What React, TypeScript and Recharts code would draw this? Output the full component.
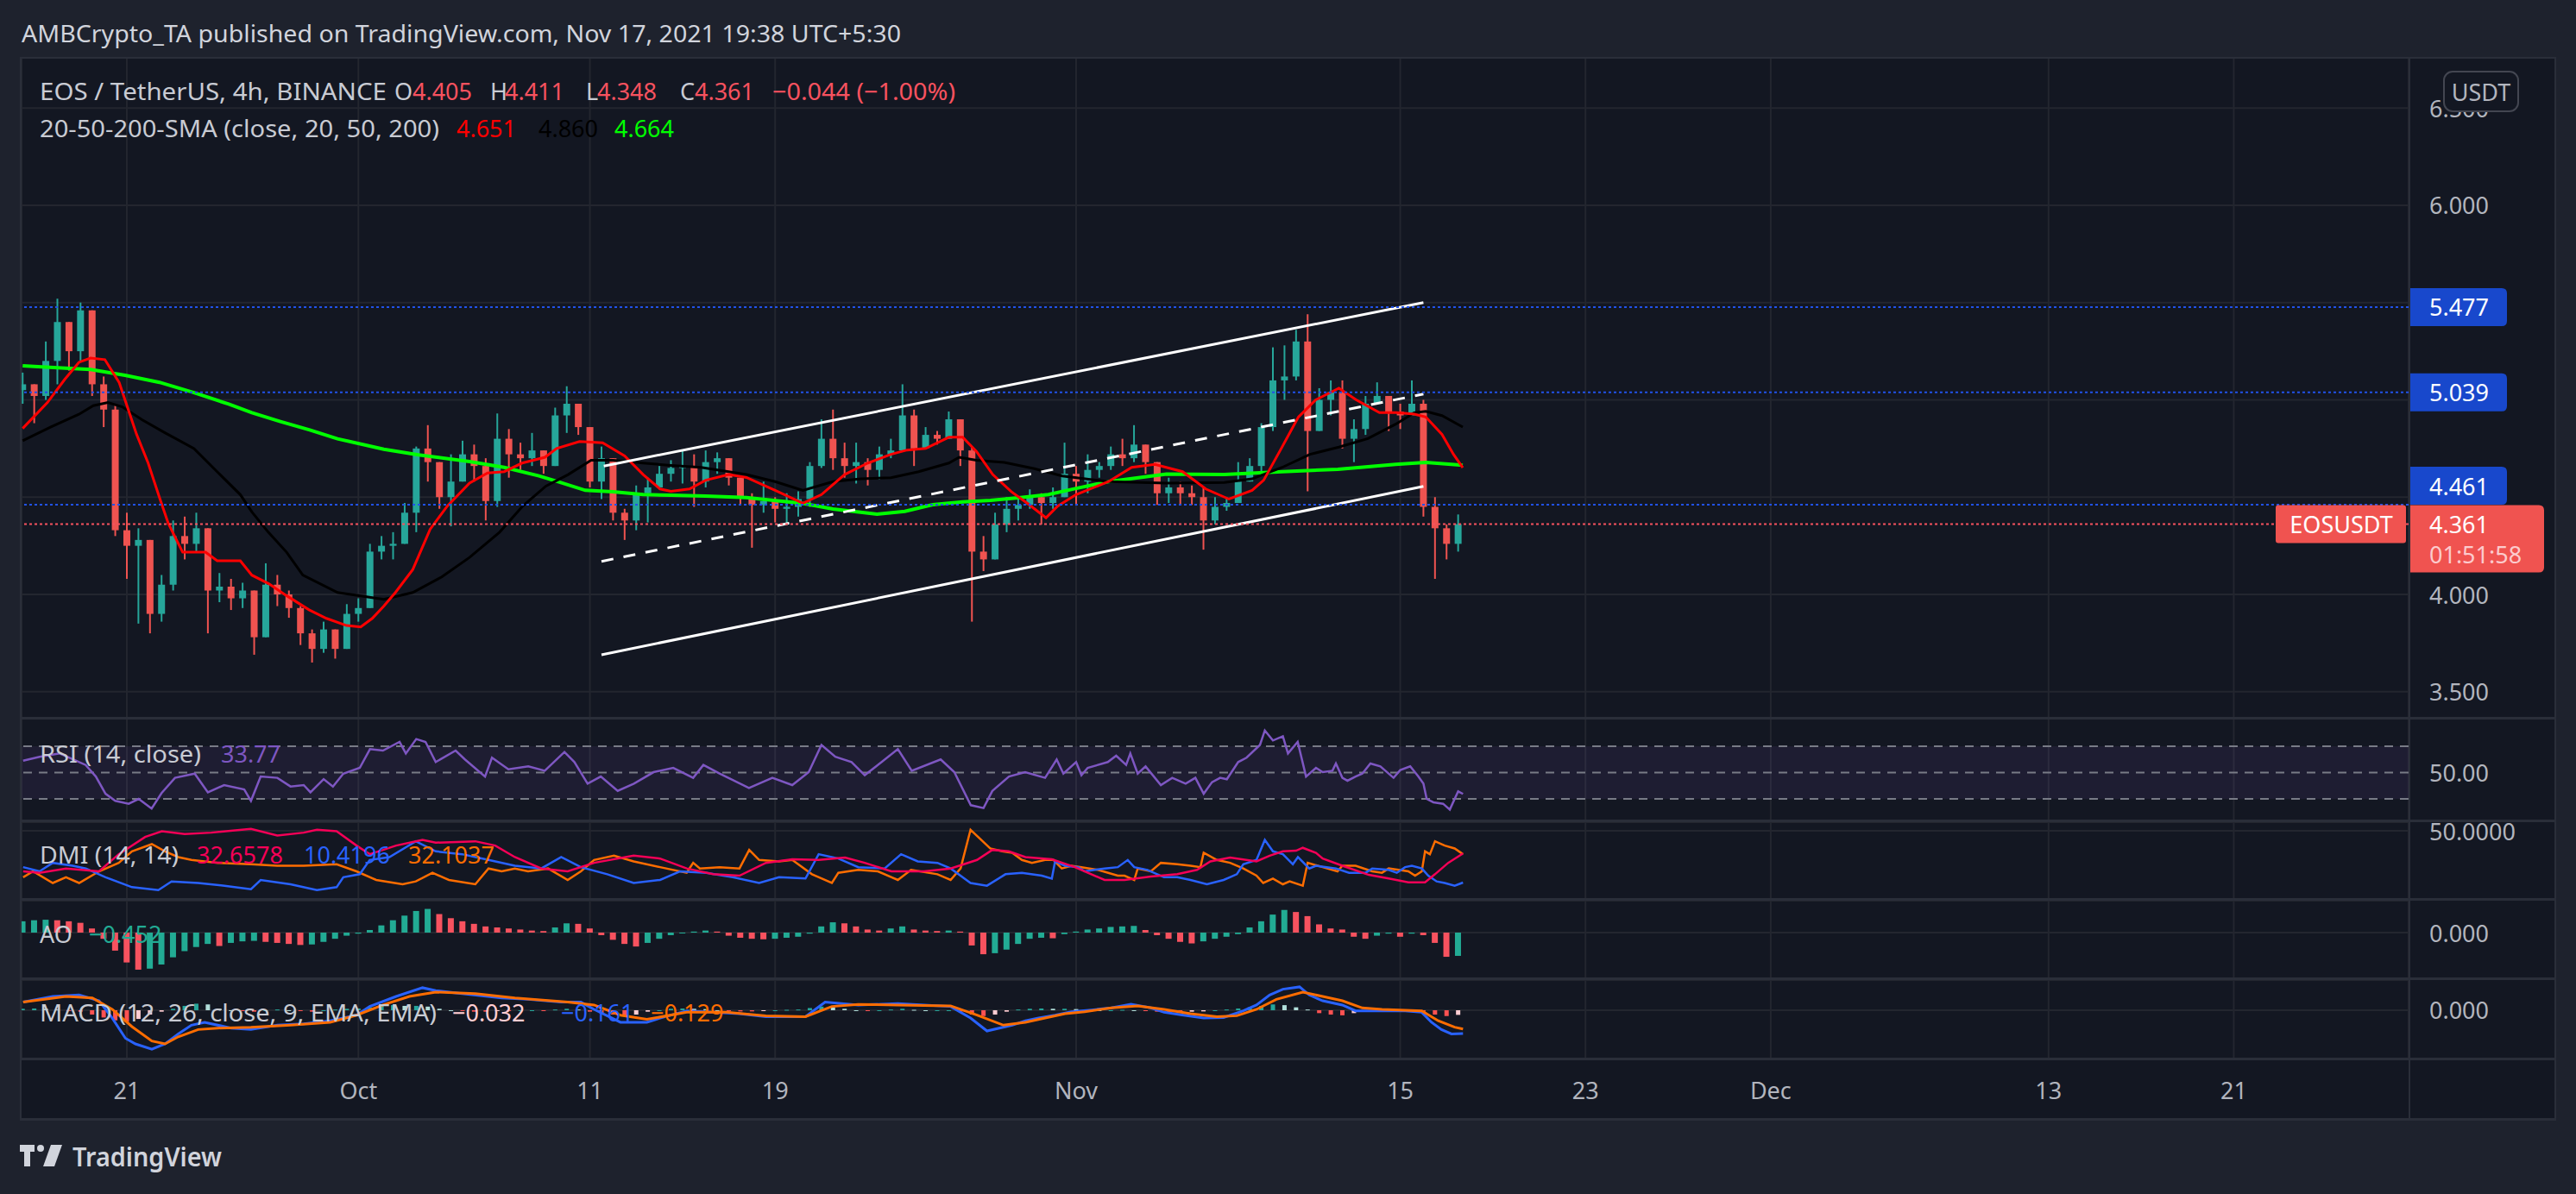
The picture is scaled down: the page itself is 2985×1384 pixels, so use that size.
import React from 'react';
import { ComposedChart, Bar, Line, XAxis, YAxis, CartesianGrid, ReferenceLine, ReferenceArea } from 'recharts';

const X_MIN = -4.547; // days from Sep 21
const X_MAX = 98.55;
const dayTicks = [0, 10, 20, 28, 41, 55, 63, 71, 83, 91];
const dayLabels = ['21', 'Oct', '11', '19', 'Nov', '15', '23', 'Dec', '13', '21'];

const candleStart = -4.5;
const candleStep = 0.5;
const firstOpen = 5.05;

const closes = [
  5.08, 5.02, 5.2, 5.4, 5.25, 5.46, 5.08, 4.95, 4.33, 4.25,
  4.28, 3.9, 4.05, 4.3, 4.26, 4.34, 4.02, 4.04, 3.98, 4.02,
  3.78, 4.05, 4.0, 3.93, 3.8, 3.72, 3.82, 3.72, 3.9, 3.93,
  4.22, 4.25, 4.26, 4.42, 4.75, 4.68, 4.5, 4.58, 4.72, 4.66,
  4.48, 4.8, 4.72, 4.7, 4.74, 4.66, 4.92, 4.98, 4.86, 4.58,
  4.7, 4.42, 4.38, 4.52, 4.55, 4.62, 4.65, 4.66, 4.58, 4.68,
  4.7, 4.6, 4.5, 4.46, 4.48, 4.44, 4.45, 4.49, 4.66, 4.8,
  4.7, 4.66, 4.68, 4.64, 4.72, 4.74, 4.92, 4.75, 4.82, 4.8,
  4.9, 4.74, 4.22, 4.18, 4.36, 4.44, 4.46, 4.5, 4.47, 4.5,
  4.62, 4.58, 4.64, 4.66, 4.72, 4.7, 4.77, 4.68, 4.52, 4.55,
  4.52, 4.5, 4.38, 4.45, 4.47, 4.58, 4.66, 4.86, 5.1, 5.12,
  5.3, 4.84, 5.0, 5.04, 4.8, 4.85, 4.98, 5.02, 4.94, 4.92,
  4.98, 4.45, 4.34, 4.26, 4.361,
];
const highs = [
  5.14, 5.08, 5.3, 5.52, 5.32, 5.5, 5.4, 5.12, 4.98, 4.42,
  4.34, 4.28, 4.1, 4.38, 4.4, 4.42, 4.34, 4.11, 4.08, 4.06,
  3.98, 4.16, 4.1, 4.02, 3.94, 3.82, 3.86, 3.8, 3.95, 3.98,
  4.26, 4.3, 4.32, 4.47, 4.76, 4.87, 4.66, 4.72, 4.79, 4.77,
  4.7, 4.93, 4.85, 4.78, 4.83, 4.74, 4.96, 5.07, 4.96, 4.84,
  4.76, 4.62, 4.44, 4.56, 4.6, 4.66, 4.69, 4.74, 4.72, 4.74,
  4.73, 4.66, 4.6, 4.52, 4.58, 4.5, 4.52, 4.53, 4.68, 4.9,
  4.95, 4.78, 4.78, 4.7, 4.76, 4.8, 5.08, 4.95, 4.86, 4.84,
  4.94, 4.86, 4.76, 4.3, 4.42, 4.5, 4.5, 4.54, 4.52, 4.55,
  4.78, 4.66, 4.72, 4.68, 4.76, 4.8, 4.87, 4.75, 4.66, 4.6,
  4.58, 4.56, 4.55, 4.5, 4.5, 4.68, 4.7, 4.88, 5.27, 5.28,
  5.36, 5.44, 5.06, 5.1, 5.1, 4.9, 5.02, 5.09, 5.02, 4.98,
  5.1, 5.0, 4.5, 4.36, 4.411,
];
const lows = [
  4.98, 4.88, 5.0, 5.08, 5.15, 5.2, 5.02, 4.86, 4.3, 4.08,
  3.85, 3.8, 3.86, 4.02, 4.18, 4.22, 3.8, 3.96, 3.92, 3.93,
  3.69, 3.85, 3.94, 3.88, 3.74, 3.65, 3.7, 3.67, 3.72, 3.86,
  3.96, 4.18, 4.18, 4.3, 4.32, 4.58, 4.44, 4.35, 4.58, 4.58,
  4.38, 4.45, 4.6, 4.64, 4.66, 4.62, 4.7, 4.83, 4.82, 4.55,
  4.49, 4.38, 4.28, 4.33, 4.37, 4.54, 4.58, 4.57, 4.45, 4.55,
  4.62, 4.56, 4.46, 4.24, 4.42, 4.37, 4.36, 4.4, 4.45, 4.65,
  4.64, 4.6, 4.57, 4.56, 4.59, 4.7, 4.8, 4.66, 4.76, 4.77,
  4.83, 4.66, 3.86, 4.12, 4.2, 4.32, 4.38, 4.44, 4.36, 4.44,
  4.5, 4.46, 4.52, 4.6, 4.64, 4.66, 4.68, 4.62, 4.46, 4.47,
  4.46, 4.46, 4.23, 4.36, 4.43, 4.5, 4.6, 4.62, 4.84, 5.0,
  5.1, 4.53, 4.84, 4.92, 4.75, 4.68, 4.82, 4.98, 4.84, 4.85,
  4.92, 4.4, 4.08, 4.18, 4.22,
];

const sma20 = [[-4.5,4.853],[-3.43,4.986],[-2.69,5.104],[-2.07,5.193],[-1.57,5.215],[-0.95,5.207],[-0.33,5.089],[0.42,4.823],[0.92,4.675],[1.41,4.498],[1.79,4.365],[2.41,4.217],[3.4,4.217],[3.9,4.173],[4.9,4.173],[5.4,4.099],[6.13,4.055],[6.88,3.995],[7.87,3.921],[8.62,3.877],[9.49,3.84],[10.1,3.833],[10.6,3.877],[11.1,3.94],[11.6,4.01],[12.35,4.128],[13.1,4.335],[13.84,4.454],[14.8,4.572],[15.58,4.624],[16.3,4.631],[17.07,4.675],[18.06,4.705],[18.56,4.75],[19.55,4.786],[20.55,4.779],[21.5,4.712],[22.3,4.616],[23.03,4.542],[23.5,4.53],[24.3,4.542],[25.0,4.587],[26.0,4.616],[26.76,4.601],[28.0,4.535],[29.2,4.468],[30.0,4.513],[31.0,4.616],[32.0,4.675],[33.0,4.72],[33.7,4.742],[34.5,4.75],[35.5,4.808],[36.1,4.808],[36.7,4.734],[37.4,4.616],[38.2,4.528],[38.9,4.468],[39.7,4.394],[40.2,4.454],[41.0,4.513],[42.4,4.58],[43.4,4.653],[44.4,4.668],[45.6,4.631],[46.6,4.542],[47.6,4.49],[48.6,4.535],[49.1,4.587],[49.86,4.75],[50.6,4.912],[51.35,5.0],[52.35,5.06],[53.1,5.0],[54.1,4.934],[54.85,4.934],[55.6,4.927],[56.1,4.912],[56.8,4.823],[57.3,4.72],[57.7,4.651]];
const sma50 = [[-4.5,4.79],[-3.3,4.86],[-2.07,4.926],[-1.45,4.97],[-0.82,4.986],[-0.2,4.964],[0.67,4.897],[1.66,4.83],[2.9,4.75],[3.9,4.631],[4.9,4.513],[5.4,4.424],[6.1,4.321],[6.9,4.217],[7.6,4.099],[9.1,4.01],[11.1,3.975],[12.35,4.01],[13.6,4.09],[14.8,4.19],[16.1,4.32],[17.1,4.454],[18.1,4.557],[19.06,4.616],[20.05,4.69],[21.0,4.69],[22.3,4.675],[23.5,4.663],[24.8,4.653],[26.76,4.616],[28.0,4.58],[29.2,4.535],[30.5,4.58],[31.7,4.594],[33.0,4.6],[34.2,4.631],[35.5,4.675],[35.95,4.705],[36.7,4.69],[37.9,4.678],[39.2,4.646],[40.4,4.609],[42.4,4.58],[44.9,4.572],[47.4,4.575],[48.6,4.594],[49.9,4.653],[51.1,4.72],[52.35,4.757],[53.6,4.801],[54.8,4.875],[55.6,4.934],[56.1,4.941],[56.8,4.919],[57.7,4.86]];
const sma200 = [[-4.5,5.175],[-3,5.165],[-1.57,5.156],[-0.08,5.126],[1.41,5.09],[2.9,5.037],[4.4,4.978],[5.4,4.934],[6.6,4.89],[7.9,4.845],[9.1,4.8],[11.1,4.746],[12.6,4.717],[14.8,4.683],[16.3,4.653],[17.8,4.609],[18.6,4.58],[19.8,4.535],[21.0,4.528],[22.3,4.513],[23.5,4.51],[25.0,4.505],[26.76,4.498],[29.2,4.468],[30.5,4.439],[32.4,4.412],[33.6,4.427],[34.8,4.461],[36.1,4.476],[37.3,4.483],[38.6,4.498],[39.8,4.513],[41.0,4.545],[42.4,4.58],[44.9,4.619],[47.4,4.616],[49.9,4.631],[52.3,4.643],[54.8,4.668],[56.1,4.678],[57.7,4.664]];

const channelUpper = [[20.6, 4.66], [56.0, 5.5]];
const channelMid = [[20.5, 4.17], [56.0, 5.03]];
const channelLower = [[20.5, 3.69], [56.0, 4.555]];

const levels = [5.477, 5.039, 4.461];
const lastPrice = 4.361;

const rsi = [[-4.48,59],[-3.77,62],[-2.9,64.5],[-1.78,55.8],[-1.34,47],[-0.92,33.9],[-0.5,28.5],[0.08,26.3],[0.51,30],[1.07,22.6],[1.5,34.4],[2.08,46],[2.93,49.2],[3.5,35],[4.2,40.5],[5.07,37.2],[5.36,28.5],[5.78,47],[6.5,46],[7.07,39.4],[7.64,40.5],[7.93,35],[8.5,45],[8.9,39.4],[9.35,49.2],[10.06,53.6],[10.5,67.8],[11.06,66.7],[11.78,73.3],[12.05,64.5],[12.5,75.5],[12.9,73.3],[13.34,58],[14.2,66.7],[14.6,60],[15.47,47],[15.77,61.3],[16.48,52.5],[17.34,54.7],[18.05,51.4],[18.9,65.6],[19.33,58],[19.9,41.6],[20.47,47],[21.2,36.1],[21.9,41.6],[22.75,50.3],[23.6,53.6],[24.46,46],[24.9,55.8],[25.6,49.2],[26.87,38.3],[27.88,46],[28.74,40.5],[29.45,50.3],[30.0,71],[30.6,62],[31.3,58],[31.87,48],[32.6,58],[33.3,67.8],[33.9,51.4],[35.15,60],[35.74,50.3],[36.45,25.2],[37.0,23],[37.38,36],[38.1,47],[38.8,50.3],[39.66,46],[40.16,60],[40.45,49.2],[41.0,58],[41.23,48],[41.5,53.6],[42.37,58],[42.73,62.8],[43.16,55.8],[43.34,64.5],[43.66,49.2],[44.0,54.7],[44.66,40.5],[45.15,46],[45.73,41.6],[46.15,46],[46.51,33.9],[46.87,42.7],[47.22,46],[47.51,44.9],[48.0,58],[48.36,61.3],[48.94,71],[49.15,82],[49.5,74.4],[49.93,77.6],[50.15,64.5],[50.57,73.3],[50.93,47],[51.36,53.6],[51.65,50.3],[52.07,51.4],[52.22,56.9],[52.5,46],[52.72,43.8],[53.07,47],[53.36,49.2],[53.71,56.9],[54.14,54.7],[54.71,46],[55.0,51.9],[55.43,54.7],[55.78,47],[56.0,41.6],[56.14,30],[56.43,27.4],[56.85,26.3],[57.14,21.9],[57.5,35.7],[57.71,33.77]];

const dmiAdx = [[-4.48,19.0],[-3.77,17.9],[-2.63,21.2],[-1.2,19.0],[-0.35,32.1],[0.79,45.3],[1.51,49.7],[2.5,47.5],[3.65,48.6],[5.36,51.5],[6.5,46.4],[7.64,48.6],[8.21,50.8],[9.06,49.7],[9.92,38.7],[10.49,32.1],[11.63,38.7],[12.77,43.1],[13.34,40.9],[15.05,42.0],[15.91,38.7],[16.76,29.9],[17.9,21.2],[19.04,19.0],[20.18,25.5],[21.89,31.0],[23.03,28.8],[24.18,21.2],[25.32,16.8],[26.46,15.7],[27.6,25.5],[28.74,28.2],[29.88,27.7],[31.02,29.5],[31.87,25.5],[33.02,19.0],[34.44,19.0],[35.58,21.2],[36.72,27.7],[37.38,35.4],[38.09,34.3],[38.81,29.9],[39.95,28.2],[40.95,22.2],[42.23,12.4],[43.09,12.4],[44.23,15.0],[45.37,16.8],[46.22,20.1],[46.8,26.6],[47.65,29.5],[48.79,26.6],[49.36,31.0],[49.93,34.3],[50.5,34.8],[50.79,37.0],[51.36,33.2],[51.65,28.8],[52.5,23.3],[53.64,16.3],[54.5,13.5],[55.35,10.6],[56.07,10.6],[56.5,16.8],[57.07,25.5],[57.71,32.66]];
const dmiPlus = [[-4.48,22.2],[-3.77,19.0],[-3.2,25.5],[-2.34,23.3],[-1.77,21.2],[-0.92,14.5],[0.22,6.9],[1.36,4.7],[1.93,11.3],[3.08,10.1],[4.22,8.0],[5.36,5.3],[5.78,12.4],[7.07,9.1],[8.21,4.7],[9.06,6.9],[9.35,14.5],[10.06,16.8],[10.49,27.7],[11.34,29.9],[12.48,42.0],[13.34,34.3],[14.48,32.1],[15.62,27.7],[16.76,23.3],[17.9,21.2],[18.76,29.9],[19.61,22.2],[20.75,16.8],[21.89,10.1],[23.03,12.4],[23.89,19.0],[25.03,17.9],[26.17,14.5],[27.31,10.1],[28.17,14.5],[29.31,13.5],[29.88,32.1],[30.73,28.8],[31.59,22.2],[32.73,21.2],[33.44,32.1],[34.16,26.6],[35.01,25.5],[35.58,21.2],[36.44,10.1],[37.15,8.0],[37.95,16.8],[38.66,17.9],[39.52,15.7],[39.95,13.5],[40.09,26.6],[40.52,23.3],[41.09,22.2],[41.37,19.0],[42.23,21.2],[42.8,22.2],[43.23,27.7],[43.51,22.2],[44.08,20.1],[44.8,14.5],[45.37,14.5],[45.94,12.4],[46.65,9.1],[47.37,12.4],[47.94,16.8],[48.22,24.4],[48.79,27.7],[49.15,43.1],[49.5,34.3],[49.93,32.1],[50.36,24.4],[50.58,29.9],[51.07,21.2],[51.36,23.3],[52.22,21.2],[52.79,17.9],[53.5,17.9],[53.79,21.2],[54.5,20.1],[54.85,17.9],[55.21,22.2],[55.5,23.3],[55.93,21.2],[56.21,15.7],[56.57,11.3],[56.92,10.1],[57.35,8.0],[57.71,10.42]];
const dmiMinus = [[-4.48,14.5],[-4.05,19.0],[-3.2,10.1],[-2.63,14.5],[-2.06,10.1],[-1.2,19.0],[-0.35,25.5],[0.22,34.3],[1.08,39.8],[1.65,34.3],[2.22,29.9],[2.79,27.7],[3.93,25.5],[5.36,24.4],[6.5,23.3],[7.64,23.3],[9.06,24.4],[9.92,19.0],[10.77,12.4],[11.91,9.1],[12.48,11.3],[13.2,17.9],[13.91,12.4],[15.05,9.1],[15.62,21.2],[16.19,19.0],[16.76,21.2],[17.33,19.0],[18.19,21.2],[19.04,12.4],[19.61,19.0],[20.18,27.7],[21.04,31.0],[21.89,26.6],[23.03,22.2],[24.18,17.9],[24.46,25.5],[24.75,21.2],[25.6,22.2],[26.46,21.2],[26.88,35.4],[27.31,27.7],[28.17,26.6],[28.74,27.7],[29.59,16.8],[30.45,10.1],[30.73,17.9],[31.59,20.1],[32.44,19.0],[33.3,12.4],[33.87,20.1],[35.01,16.8],[35.58,12.4],[36.01,21.2],[36.44,50.8],[37.29,36.5],[37.81,34.3],[38.24,33.2],[38.66,27.7],[39.09,25.5],[39.66,27.7],[40.02,27.7],[40.38,21.2],[40.8,23.3],[41.23,22.2],[41.94,20.1],[42.8,15.7],[43.09,15.7],[43.51,12.4],[43.66,21.2],[44.23,19.0],[44.66,25.5],[45.37,24.4],[45.94,23.3],[46.37,22.2],[46.51,33.2],[47.08,27.7],[47.65,25.5],[48.22,21.2],[48.79,15.7],[49.08,10.1],[49.5,13.5],[49.93,9.1],[50.22,11.3],[50.79,8.0],[51.0,25.5],[51.65,22.2],[52.29,19.0],[52.5,23.3],[53.07,23.3],[53.79,19.0],[54.21,17.9],[54.5,21.2],[54.93,20.1],[55.35,19.0],[55.64,15.7],[55.93,19.0],[56.07,34.3],[56.28,32.1],[56.5,42.0],[56.92,38.7],[57.35,36.5],[57.71,32.1]];

const aoValues = [
  0.22, 0.24, 0.25, 0.24, 0.22, 0.19, 0.08, -0.12, -0.35, -0.58,
  -0.72, -0.7, -0.62, -0.48, -0.36, -0.28, -0.22, -0.26, -0.2, -0.17,
  -0.16, -0.18, -0.2, -0.22, -0.24, -0.23, -0.18, -0.12, -0.06, -0.02,
  0.05, 0.14, 0.24, 0.33, 0.42, 0.46, 0.36, 0.28, 0.22, 0.17,
  0.12, 0.1, 0.08, 0.06, 0.04, 0.03, 0.1, 0.18, 0.17, 0.08,
  -0.05, -0.14, -0.22, -0.27, -0.2, -0.12, -0.05, -0.01, 0.02, 0.04,
  0.02, -0.06, -0.1, -0.12, -0.13, -0.12, -0.1, -0.08, -0.02, 0.12,
  0.2, 0.18, 0.12, 0.06, 0.04, 0.08, 0.12, 0.06, 0.04, 0.03,
  0.04, 0.02, -0.25, -0.42, -0.4, -0.33, -0.22, -0.12, -0.1, -0.11,
  -0.03, 0.02, 0.06, 0.08, 0.11, 0.12, 0.13, 0.05, -0.05, -0.12,
  -0.18, -0.21, -0.17, -0.12, -0.08, -0.03, 0.1, 0.22, 0.35, 0.44,
  0.4, 0.32, 0.16, 0.08, 0.06, -0.08, -0.12, -0.06, -0.02, -0.08,
  -0.02, -0.05, -0.2, -0.47, -0.452,
];

const macdLine = [[-4.48,0.056],[-3.2,0.095],[-2.06,0.105],[-1.2,0.065],[-0.63,-0.054],[-0.06,-0.193],[0.37,-0.232],[1.08,-0.268],[1.65,-0.232],[2.22,-0.163],[2.79,-0.103],[3.36,-0.083],[4.5,-0.123],[5.36,-0.133],[6.5,-0.103],[7.64,-0.093],[8.78,-0.073],[9.92,-0.034],[10.49,0.026],[11.63,0.095],[12.77,0.155],[13.34,0.135],[14.48,0.115],[16.19,0.085],[17.33,0.075],[18.76,0.056],[19.61,0.056],[20.18,0.006],[21.32,-0.083],[22.46,-0.083],[23.03,-0.054],[24.18,-0.004],[25.32,-0.014],[26.46,-0.024],[27.6,-0.044],[29.31,-0.044],[30.16,0.056],[31.59,0.036],[33.3,0.046],[34.44,0.036],[35.58,0.026],[36.44,-0.054],[37.15,-0.143],[38.24,-0.103],[38.81,-0.073],[39.38,-0.054],[40.09,-0.034],[40.8,-0.01],[41.66,0.002],[42.52,0.016],[43.37,0.042],[44.23,0.016],[44.8,-0.014],[45.65,-0.034],[46.51,-0.054],[47.37,-0.05],[48.22,-0.004],[48.79,0.036],[49.36,0.105],[49.93,0.145],[50.65,0.161],[51.07,0.105],[51.65,0.065],[52.5,0.036],[53.07,-0.004],[53.79,-0.004],[54.5,-0.004],[55.21,-0.004],[55.93,-0.014],[56.35,-0.083],[56.78,-0.133],[57.21,-0.163],[57.71,-0.161]];
const macdSignal = [[-4.48,0.056],[-2.63,0.095],[-1.49,0.085],[-0.63,0.006],[0.22,-0.113],[1.08,-0.212],[1.65,-0.232],[2.22,-0.183],[3.08,-0.133],[3.93,-0.123],[5.36,-0.117],[7.07,-0.103],[8.78,-0.083],[9.92,-0.034],[11.06,0.036],[12.2,0.095],[13.34,0.125],[15.05,0.115],[16.76,0.085],[19.04,0.056],[20.18,0.036],[21.32,-0.034],[22.46,-0.063],[24.18,-0.014],[25.89,-0.014],[27.6,-0.038],[29.31,-0.044],[30.45,0.026],[31.59,0.04],[33.3,0.036],[35.58,0.03],[36.72,-0.034],[37.86,-0.103],[38.81,-0.083],[39.66,-0.054],[40.52,-0.024],[41.37,-0.01],[42.52,0.016],[43.66,0.03],[44.8,0.006],[45.94,-0.024],[47.08,-0.044],[47.94,-0.038],[48.79,0.006],[49.65,0.075],[50.79,0.125],[51.65,0.095],[52.5,0.065],[53.36,0.016],[54.21,0.006],[55.21,0],[55.93,-0.004],[56.64,-0.073],[57.35,-0.117],[57.71,-0.129]];
const macdHist = [
  0.01, 0.012, 0.01, 0.005, -0.005, -0.01, -0.03, -0.05, -0.07, -0.08,
  -0.06, -0.03, -0.01, 0.01, 0.03, 0.045, 0.04, 0.01, 0.0, -0.005,
  -0.01, 0.0, 0.005, 0.0, -0.005, -0.01, 0.0, 0.005, 0.01, 0.012,
  0.02, 0.03, 0.035, 0.03, 0.03, 0.025, 0.01, 0.0, -0.005, -0.01,
  -0.01, -0.005, -0.005, 0.0, 0.0, -0.005, 0.005, 0.01, 0.005, -0.01,
  -0.02, -0.03, -0.035, -0.03, -0.01, 0.0, 0.01, 0.012, 0.01, 0.008,
  0.0, -0.005, -0.008, -0.008, -0.005, 0.0, 0.003, 0.005, 0.015, 0.025,
  0.02, 0.01, 0.0, -0.005, 0.0, 0.005, 0.01, 0.003, 0.0, 0.0,
  0.0, -0.01, -0.03, -0.04, -0.03, -0.01, 0.005, 0.01, 0.012, 0.01,
  0.01, 0.008, 0.005, 0.0, 0.0, 0.003, 0.0, -0.005, -0.01, -0.012,
  -0.012, -0.01, -0.008, 0.0, 0.005, 0.012, 0.02, 0.03, 0.04, 0.035,
  0.02, 0.005, -0.02, -0.03, -0.035, -0.02, -0.005, 0.005, 0.003, 0.0,
  0.0, -0.01, -0.03, -0.04, -0.032,
];

// ---- styling ----
const FONT = '"Noto Sans", "DejaVu Sans", sans-serif';
const BG = '#1e222d';
const PANE = '#131722';
const GRID = '#23262f';
const BORDER = '#2a2e39';
const TEXT = '#b2b5be';
const LEG = '#c8cbd3';
const UP = '#26a69a';
const DOWN = '#ef5350';
const PANE_W = 2935;
const AXIS_W = 169;
const M0 = { top: 0, right: 0, bottom: 0, left: 0 };

const toRows = (pairs: number[][]) => pairs.map(([t, v]) => ({ t, v }));
const tAt = (i: number) => candleStart + i * candleStep;

const candleRows = closes.map((c, i) => {
  const o = i === 0 ? firstOpen : closes[i - 1];
  return { t: tAt(i), o, c, h: Math.max(highs[i], o, c), l: Math.min(lows[i], o, c) };
});
const aoRows = aoValues.map((v, i) => ({
  t: tAt(i), v, color: i > 0 && v < aoValues[i - 1] ? '#f7525f' : '#22ab94',
}));
const macdRows = macdHist.map((v, i) => {
  const prev = i > 0 ? macdHist[i - 1] : v;
  const color = v >= 0 ? (v >= prev ? '#26a69a' : '#b2dfdb') : (v <= prev ? '#ff5252' : '#ffcdd2');
  return { t: tAt(i), v, color };
});

function Candle(props: any) {
  const { x, y, width, height, payload } = props;
  if (!payload || y == null) return null;
  const { o, h, l, c } = payload;
  const top = Math.min(y, y + height);
  const bot = Math.max(y, y + height);
  const k = h - l > 0 ? (bot - top) / (h - l) : 0;
  const yo = top + (h - o) * k;
  const yc = top + (h - c) * k;
  const col = c >= o ? UP : DOWN;
  const cx = x + width / 2;
  return (
    <g>
      <line x1={cx} x2={cx} y1={top} y2={bot} stroke={col} strokeWidth={2} />
      <rect x={cx - 4} y={Math.min(yo, yc)} width={8} height={Math.max(2, Math.abs(yo - yc))} fill={col} />
    </g>
  );
}

function Hist(props: any) {
  const { x, y, width, height, payload, w } = props;
  if (!payload || y == null) return null;
  const top = Math.min(y, y + height);
  return <rect x={x + width / 2 - w / 2} y={top} width={w} height={Math.max(1, Math.abs(height))} fill={payload.color} />;
}

function SideTick(props: any) {
  const { x, y, payload, fmt, skip } = props;
  if (skip && skip.includes(payload.value)) return null;
  return (
    <text x={x} y={y} fill={TEXT} fontSize={27} fontFamily={FONT} dominantBaseline="central">
      {fmt(payload.value)}
    </text>
  );
}

function TimeTick(props: any) {
  const { x, y, payload } = props;
  return (
    <text x={x} y={y + 36} fill={TEXT} fontSize={27} fontFamily={FONT} textAnchor="middle" dominantBaseline="central">
      {dayLabels[dayTicks.indexOf(payload.value)]}
    </text>
  );
}

const tagPath = (x: number, y: number, w: number, h: number, r: number) =>
  `M${x},${y} H${x + w - r} Q${x + w},${y} ${x + w},${y + r} V${y + h - r} Q${x + w},${y + h} ${x + w - r},${y + h} H${x} Z`;

function LevelTag({ viewBox, txt, shift }: any) {
  if (!viewBox) return null;
  const x0 = viewBox.x + viewBox.width;
  const yc = viewBox.y + shift;
  return (
    <g>
      <path d={tagPath(x0, yc - 22, 114, 44, 6)} fill="#1848cc" />
      <text x={x0 + 24} y={yc} fill="#ffffff" fontSize={27} fontFamily={FONT} dominantBaseline="central">{txt}</text>
    </g>
  );
}

function LastTag({ viewBox }: any) {
  if (!viewBox) return null;
  const x0 = viewBox.x + viewBox.width;
  const yc = viewBox.y;
  return (
    <g>
      <rect x={x0 - 154} y={yc - 22} width={151} height={44} rx={3} fill="#f05350" />
      <text x={x0 - 78} y={yc} fill="#ffffff" fontSize={27} fontFamily={FONT} textAnchor="middle" dominantBaseline="central">EOSUSDT</text>
      <path d={tagPath(x0, yc - 22, 157, 78, 6)} fill="#f05350" />
      <text x={x0 + 24} y={yc} fill="#ffffff" fontSize={27} fontFamily={FONT} dominantBaseline="central">{lastPrice.toFixed(3)}</text>
      <text x={x0 + 24} y={yc + 35} fill="#fccbcd" fontSize={27} fontFamily={FONT} dominantBaseline="central">01:51:58</text>
    </g>
  );
}

const tagShift = [0, 0, -22];

const hiddenX = (
  <XAxis dataKey="t" type="number" domain={[X_MIN, X_MAX]} ticks={dayTicks} allowDataOverflow hide />
);
const sideAxis = (domain: number[], ticks: number[], fmt: (v: number) => string, skip?: number[]) => (
  <YAxis
    orientation="right"
    type="number"
    domain={domain}
    ticks={ticks}
    allowDataOverflow
    width={AXIS_W}
    axisLine={false}
    tickLine={false}
    tickSize={0}
    tickMargin={24}
    tick={<SideTick fmt={fmt} skip={skip} />}
  />
);

const line = (pairs: number[][], stroke: string, width: number, dash?: string) => (
  <Line
    data={toRows(pairs)}
    dataKey="v"
    type="linear"
    stroke={stroke}
    strokeWidth={width}
    strokeDasharray={dash}
    dot={false}
    activeDot={false}
    isAnimationActive={false}
  />
);

function T({ x, y, c = LEG, s = 27, len, w, children }: any) {
  return (
    <text x={x} y={y} fill={c} fontSize={s} fontFamily={FONT} fontWeight={w} dominantBaseline="central"
      textLength={len} lengthAdjust={len ? 'spacingAndGlyphs' : undefined}>
      {children}
    </text>
  );
}

export default function App() {
  const RED = '#f7525f';
  return (
    <div style={{ position: 'fixed', left: 0, top: 0, width: 2985, height: 1384, background: BG, overflow: 'hidden' }}>
      <style>{'.recharts-surface { overflow: visible; }'}</style>
      <div style={{ position: 'absolute', left: 25, top: 67, width: 2935, height: 1229, background: PANE }} />

      <div style={{ position: 'absolute', left: 25, top: 67 }}>
        <ComposedChart width={PANE_W} height={765} data={candleRows} margin={M0}>
          <CartesianGrid stroke={GRID} strokeWidth={2} />
          {hiddenX}
          {sideAxis([3.366, 6.758], [3.5, 4, 4.5, 5, 5.5, 6, 6.5], (v) => v.toFixed(3), [4.5, 5, 5.5])}
          <Bar dataKey={(r: any) => [r.l, r.h]} barSize={8} shape={<Candle />} isAnimationActive={false} />
          {line(sma200, '#00ff00', 4)}
          {line(sma50, '#000000', 3)}
          {line(sma20, '#ff0000', 3)}
          {line(channelUpper, '#ffffff', 3)}
          {line(channelMid, '#ffffff', 3, '14 12')}
          {line(channelLower, '#ffffff', 3)}
          {levels.map((lv, i) => (
            <ReferenceLine key={lv} y={lv} stroke="#2152e8" strokeWidth={2} strokeDasharray="3 3"
              label={(p: any) => <LevelTag viewBox={p.viewBox} txt={lv.toFixed(3)} shift={tagShift[i]} />} />
          ))}
          <ReferenceLine y={lastPrice} stroke={RED} strokeWidth={2} strokeDasharray="3 3"
            label={(p: any) => <LastTag viewBox={p.viewBox} />} />
        </ComposedChart>
      </div>

      <div style={{ position: 'absolute', left: 25, top: 832 }}>
        <ComposedChart width={PANE_W} height={119} margin={M0}>
          <CartesianGrid stroke={GRID} strokeWidth={2} horizontal={false} />
          {hiddenX}
          {sideAxis([13.61, 91.64], [50], (v) => v.toFixed(2))}
          <ReferenceArea y1={30} y2={70} fill="#7e57c2" fillOpacity={0.1} stroke="none" />
          <ReferenceLine y={70} stroke="#787b86" strokeWidth={2} strokeDasharray="10 8" />
          <ReferenceLine y={50} stroke="#787b86" strokeWidth={2} strokeDasharray="10 8" />
          <ReferenceLine y={30} stroke="#787b86" strokeWidth={2} strokeDasharray="10 8" />
          {line(rsi, '#7e57c2', 2.5)}
        </ComposedChart>
      </div>

      <div style={{ position: 'absolute', left: 25, top: 953 }}>
        <ComposedChart width={PANE_W} height={89} margin={M0}>
          <CartesianGrid stroke={GRID} strokeWidth={2} />
          {hiddenX}
          {sideAxis([-2.11, 56.6], [50], (v) => v.toFixed(4))}
          {line(dmiMinus, '#ff6d00', 2.5)}
          {line(dmiPlus, '#2962ff', 2.5)}
          {line(dmiAdx, '#f50057', 2.5)}
        </ComposedChart>
      </div>

      <div style={{ position: 'absolute', left: 25, top: 1044 }}>
        <ComposedChart width={PANE_W} height={90} data={aoRows} margin={M0}>
          <CartesianGrid stroke={GRID} strokeWidth={2} />
          {hiddenX}
          {sideAxis([-0.888, 0.62], [0], (v) => v.toFixed(3))}
          <Bar dataKey="v" barSize={7} shape={<Hist w={7} />} isAnimationActive={false} />
        </ComposedChart>
      </div>

      <div style={{ position: 'absolute', left: 25, top: 1136 }}>
        <ComposedChart width={PANE_W} height={160} data={macdRows} margin={M0}>
          <CartesianGrid stroke={GRID} strokeWidth={2} />
          <XAxis dataKey="t" type="number" domain={[X_MIN, X_MAX]} ticks={dayTicks} allowDataOverflow
            height={69} axisLine={false} tickLine={false} tickSize={0} tickMargin={0} tick={<TimeTick />} />
          {sideAxis([-0.333, 0.208], [0], (v) => v.toFixed(3))}
          <Bar dataKey="v" barSize={5} shape={<Hist w={5} />} isAnimationActive={false} />
          {line(macdLine, '#2962ff', 3)}
          {line(macdSignal, '#ff6d00', 3)}
        </ComposedChart>
      </div>

      <svg width={2985} height={1384} style={{ position: 'absolute', left: 0, top: 0, pointerEvents: 'none' }}>
        <rect x={23} y={66} width={2939} height={2} fill={BORDER} />
        <rect x={23} y={66} width={2} height={1232} fill={BORDER} />
        <rect x={2960} y={66} width={2} height={1232} fill={BORDER} />
        <rect x={23} y={1296} width={2939} height={3} fill={BORDER} />
        <rect x={2791} y={67} width={2} height={1229} fill={BORDER} />
        {[831, 950, 1041, 1133, 1226].map((y) => (
          <rect key={y} x={25} y={y} width={2935} height={3} fill={BORDER} />
        ))}

        <T x={25} y={38} c="#d1d4dc" len={1019}>AMBCrypto_TA published on TradingView.com, Nov 17, 2021 19:38 UTC+5:30</T>

        <T x={46} y={105} len={402}>EOS / TetherUS, 4h, BINANCE</T>
        <T x={457} y={105}>O</T><T x={478} y={105} c={RED}>4.405</T>
        <T x={568} y={105}>H</T><T x={585} y={105} c={RED}>4.411</T>
        <T x={679} y={105}>L</T><T x={692} y={105} c={RED}>4.348</T>
        <T x={788} y={105}>C</T><T x={805} y={105} c={RED}>4.361</T>
        <T x={895} y={105} c={RED} len={212}>−0.044 (−1.00%)</T>

        <T x={46} y={148} len={463}>20-50-200-SMA (close, 20, 50, 200)</T>
        <T x={529} y={148} c="#ff0000">4.651</T>
        <T x={624} y={148} c="#000000">4.860</T>
        <T x={712} y={148} c="#00ff00">4.664</T>

        <T x={46} y={873} len={187}>RSI (14, close)</T>
        <T x={256} y={873} c="#7e57c2">33.77</T>

        <T x={46} y={990} len={161}>DMI (14, 14)</T>
        <T x={228} y={990} c="#f50057">32.6578</T>
        <T x={352} y={990} c="#2962ff">10.4196</T>
        <T x={473} y={990} c="#ff6d00">32.1037</T>

        <T x={46} y={1082}>AO</T>
        <T x={103} y={1082} c="#22ab94">−0.452</T>

        <T x={46} y={1173} len={460}>MACD (12, 26, close, 9, EMA, EMA)</T>
        <T x={524} y={1173} c="#ffcdd2">−0.032</T>
        <T x={650} y={1173} c="#2962ff">−0.161</T>
        <T x={754} y={1173} c="#ff6d00">−0.129</T>

        <rect x={2832} y={83} width={86} height={46} rx={10} fill={PANE} stroke="#434651" strokeWidth={2} />
        <text x={2875} y={106} fill={TEXT} fontSize={27} fontFamily={FONT} textAnchor="middle" dominantBaseline="central">USDT</text>

        <g fill="#d1d4dc" transform="translate(23,1327)">
          <path d="M0 0 H17 V8 H12 V25 H5 V8 H0 Z" />
          <circle cx={24} cy={4} r={4} />
          <path d="M36 0 H49 L40 25 H27 Z" />
        </g>
        <T x={84} y={1340} c="#d1d4dc" s={30} w={600} len={173}>TradingView</T>
      </svg>
    </div>
  );
}
